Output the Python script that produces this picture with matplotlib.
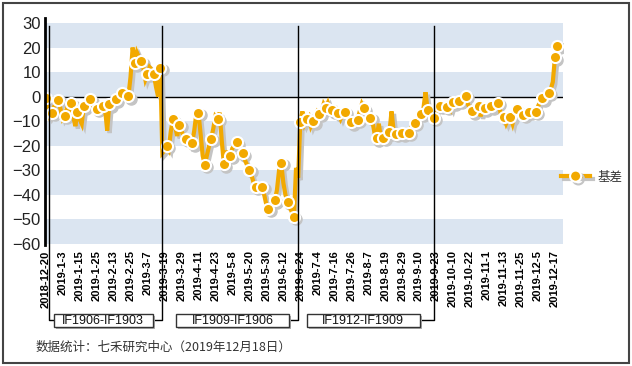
import numpy as np
import pandas as pd
import matplotlib
matplotlib.use('Agg')
import matplotlib.pyplot as plt
import matplotlib.transforms as mtransforms
import matplotlib.patheffects as pe
from matplotlib.lines import Line2D
from matplotlib.patches import Rectangle

plt.rcParams['font.family'] = ['Liberation Sans', 'Noto Sans CJK SC', 'DejaVu Sans']

# trading days 2018-12-20 .. 2019-12-18 (CFFEX calendar)
holidays = ['2018-12-31', '2019-01-01', '2019-02-04', '2019-02-05', '2019-02-06',
            '2019-02-07', '2019-02-08', '2019-04-05', '2019-05-01', '2019-05-02',
            '2019-05-03', '2019-06-07', '2019-09-13', '2019-10-01', '2019-10-02',
            '2019-10-03', '2019-10-04', '2019-10-07']
days = pd.bdate_range('2018-12-20', '2019-12-18')
days = days[~days.isin(pd.to_datetime(holidays))]
day_labels = [f"{d.year}-{d.month}-{d.day}" for d in days]

# 基差 (IF basis, points)
basis = [
    -0.7, -4, -8, -6.6, -4, -3, -1.3, -5, -9, -7.7,
    -5, -6, -2.7, -8, -12, -6.4, -9, -11, -3.9, -4,
    -2, -1.1, -3, -5, -5.0, -4, -3, -3.7, -5, -13.8,
    -3.1, -3, -2, -1.1, 0, 1, 1.6, 1, 0.5, 0.2,
    8, 20, 13.7, 18, 16, 14.5, 12, 7, 9.3, 12,
    11, 9.1, 4, 0, 11.8, -23, -22, -19.9, -21.5, -14,
    -9.1, -12, -16, -11.5, -14, -16, -17.2, -18, -20, -19,
    -14, -7, -6.5, -15, -24, -27.8, -24, -20, -17.2, -13,
    -8, -9, -6.5, -18, -27.5, -22, -25, -24, -21, -20,
    -18.6, -20, -22, -23, -26, -28, -29.8, -32, -35, -36.7,
    -37, -38, -36.7, -40, -44, -45.7, -44, -42, -42.2, -38,
    -30, -27, -35, -40, -42.7, -45, -47, -48.9, -29, -33,
    -10.2, -6, -11, -9, -8, -12, -10, -8, -6, -6.9,
    -6, -3, -4.5, -2.5, -5, -5.6, -6, -5, -6.7, -9,
    -7, -6.1, -6, -9, -10.4, -11, -10, -9.3, -6, -3,
    -4.8, -5, -7, -8.5, -10, -15, -16.9, -11, -17, -16.7,
    -15, -14, -14.5, -6, -14, -15.2, -16, -15, -14.9, -15,
    -15, -14.6, -13, -11, -10.6, -9, -8, -6.9, -5, 1.8,
    -5.3, -5, -7, -8.5, -6, -4, -3.6, -4, -5, -4.2,
    -3, -5, -2.3, -2, -2, -1.7, -1, -1, 0.3, -3,
    -5, -6, -7, -5, -3.8, -8, -5, -4.8, -4, -5,
    -3.9, -3, -4, -2.5, -5, -9, -8.4, -11, -9, -8.4,
    -11, -7, -5.1, -6, -8, -7.4, -8, -7, -6.2, -6,
    -7, -6.2, -4, -2, -0.7, 0, 1, 1.6, 3, 6,
    16, 20.7,
]

roll_dates = ['2019-3-18', '2019-6-21', '2019-9-20']
spread_names = ['IF1906-IF1903', 'IF1909-IF1906', 'IF1912-IF1909']

orange = '#f2a900'
n = len(basis)
x = np.arange(n)

fig = plt.figure(figsize=(6.32, 3.66), dpi=100)
ax = fig.add_axes([45 / 632, 1 - 244 / 366, 518 / 632, 221 / 366])

for lo in [20, 0, -20, -40, -60]:
    ax.axhspan(lo, lo + 10, color='#dbe5f1', lw=0, zorder=0)
ax.axhline(0, color='black', lw=1, zorder=1)

mk = list(range(0, n, 3)) + [n - 1]
shadow = mtransforms.offset_copy(ax.transData, fig=fig, x=2.5, y=-2.5, units='dots')
ax.plot(x, basis, color='#c4c4c4', lw=3, marker='o', ms=8, mec='#c4c4c4',
        markevery=mk, transform=shadow, solid_joinstyle='miter', zorder=3)
ax.plot(x, basis, color=orange, lw=3, marker='o', ms=8, mfc=orange, mec='white',
        mew=1.5, markevery=mk, solid_joinstyle='miter', zorder=4)

ax.set_xlim(-0.3, 243.8)
ax.set_ylim(-60, 30)
ax.set_yticks(range(-60, 31, 10))
ax.tick_params(axis='y', length=0, pad=3, labelsize=12, labelcolor='#222222')
ax.set_xticks(x[::8])
ax.set_xticklabels(day_labels[::8], rotation=90, fontsize=8, fontweight='bold', va='top')
ax.tick_params(axis='x', length=0, pad=4.5)
for s in ax.spines.values():
    s.set_visible(False)
ax.axvline(-0.3, ymin=-0.005, ymax=1.023, color='black', lw=2, clip_on=False, zorder=5)

# contract roll brackets
blend = mtransforms.blended_transform_factory(ax.transData, ax.transAxes)
rolls = [day_labels.index(d) for d in roll_dates]
box_spans = [(3.8, 50.4), (61.6, 114.8), (123.2, 176.2)]
yl = -0.344
for r, (b0, b1), name in zip(rolls, box_spans, spread_names):
    ax.plot([r, r, b1], [0.985, yl, yl], transform=blend, color='black', lw=1,
            clip_on=False, zorder=5)
    ax.add_patch(Rectangle((b0 + 1, -0.385), b1 - b0, 0.059, transform=blend,
                           fc='#b0b0b0', ec='none', clip_on=False, zorder=5))
    ax.add_patch(Rectangle((b0, -0.376), b1 - b0, 0.059, transform=blend,
                           fc='white', ec='#333333', lw=1, clip_on=False, zorder=6))
    ax.text((b0 + b1) / 2, -0.3465, name, transform=blend, ha='center', va='center',
            fontsize=9, color='#111111', zorder=7)
ax.plot([1.8, 1.8, box_spans[0][0]], [0.985, yl, yl], transform=blend, color='black',
        lw=1, clip_on=False, zorder=5)

h = Line2D([], [], color=orange, lw=3, marker='o', ms=8, mfc=orange, mec='white', mew=1.5,
           path_effects=[pe.SimpleLineShadow(offset=(2, -2), shadow_color='#c4c4c4', alpha=1),
                         pe.Normal()])
fig.legend(handles=[h], labels=['基差'], loc='center left',
           bbox_to_anchor=(555 / 632, 1 - 177 / 366), frameon=False, handlelength=2.3,
           handletextpad=0.6, borderpad=0, labelcolor='#333333',
           prop={'family': ['Noto Sans CJK SC'], 'size': 9})

fig.text(36 / 632, 1 - 347 / 366, '数据统计：七禾研究中心（2019年12月18日）', va='center',
         fontsize=9, color='#333333', family=['Noto Sans CJK SC', 'DejaVu Sans'])

fig.patches.append(Rectangle((3 / 632, 3 / 366), 626 / 632, 360 / 366, transform=fig.transFigure,
                             fill=False, ec='#444444', lw=1.5))

fig.savefig('out.png', dpi=100)
